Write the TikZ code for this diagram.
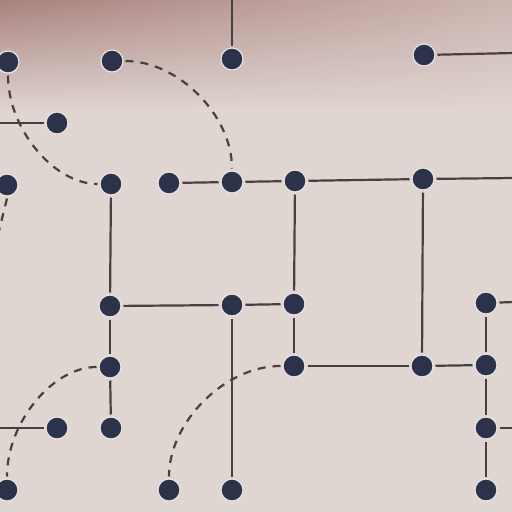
\documentclass[tikz,border=0pt]{standalone}
\usetikzlibrary{calc,fadings}
\definecolor{bgmain}{RGB}{223,213,209}
\definecolor{bgtopl}{RGB}{170,130,126}
\definecolor{bgtopr}{RGB}{205,182,178}
\definecolor{dotc}{RGB}{44,50,74}
\definecolor{linec}{RGB}{72,64,64}
\definecolor{haloc}{RGB}{232,228,232}
\tikzfading[name=topband, top color=transparent!0, middle color=transparent!15, bottom color=transparent!100]
\begin{document}
\begin{tikzpicture}[x=1pt,y=-1pt,
  dot/.style={circle,fill=dotc,draw=haloc,line width=1.2pt,minimum size=22pt,inner sep=0pt,outer sep=2.5pt},
  edge/.style={draw=linec,line width=2.2pt},
  dashedge/.style={draw=linec,line width=2.2pt,dash pattern=on 8pt off 7pt}]
\useasboundingbox (0,0) rectangle (512,512);
\clip (0,0) rectangle (512,512);
\fill[bgmain] (0,0) rectangle (512,512);
\shade[left color=bgtopl,right color=bgtopr,path fading=topband] (0,0) rectangle (512,110);
% nodes
\node[dot] (n1) at (8,62) {};
\node[dot] (n2) at (112,61) {};
\node[dot] (n3) at (232,59) {};
\node[dot] (n4) at (424,55) {};
\node[dot] (n5) at (57,123) {};
\node[dot] (n6) at (7,185) {};
\node[dot] (n7) at (111,184) {};
\node[dot] (n8) at (169,183) {};
\node[dot] (n9) at (232,182) {};
\node[dot] (n10) at (295,181) {};
\node[dot] (n11) at (423,179) {};
\node[dot] (n12) at (110,306) {};
\node[dot] (n13) at (232,305) {};
\node[dot] (n14) at (294,304) {};
\node[dot] (n15) at (486,303) {};
\node[dot] (n16) at (110,367) {};
\node[dot] (n17) at (294,366) {};
\node[dot] (n18) at (422,366) {};
\node[dot] (n19) at (486,365) {};
\node[dot] (n20) at (57,428) {};
\node[dot] (n21) at (111,428) {};
\node[dot] (n22) at (486,428) {};
\node[dot] (n23) at (7,490) {};
\node[dot] (n24) at (169,490) {};
\node[dot] (n25) at (232,490) {};
\node[dot] (n26) at (486,490) {};
% free ends
\coordinate (t3) at (232,-2);
\coordinate (r4) at (514,53);
\coordinate (l5) at (-2,123);
\coordinate (r11) at (514,178);
\coordinate (r15) at (514,302);
\coordinate (l20) at (-2,428);
\coordinate (r22) at (514,428);
\coordinate (d6) at (-2,235);
% solid edges
\draw[edge] (t3) -- (n3);
\draw[edge] (n4) -- (r4);
\draw[edge] (l5) -- (n5);
\draw[edge] (n8) -- (n9);
\draw[edge] (n9) -- (n10);
\draw[edge] (n10) -- (n11);
\draw[edge] (n11) -- (r11);
\draw[edge] (n7) -- (n12);
\draw[edge] (n12) -- (n13);
\draw[edge] (n13) -- (n14);
\draw[edge] (n10) -- (n14);
\draw[edge] (n14) -- (n17);
\draw[edge] (n17) -- (n18);
\draw[edge] (n18) -- (n19);
\draw[edge] (n11) -- (n18);
\draw[edge] (n13) -- (n25);
\draw[edge] (n12) -- (n16);
\draw[edge] (n16) -- (n21);
\draw[edge] (l20) -- (n20);
\draw[edge] (n15) -- (r15);
\draw[edge] (n15) -- (n19);
\draw[edge] (n19) -- (n22);
\draw[edge] (n22) -- (n26);
\draw[edge] (n22) -- (r22);
% dashed arcs
\draw[dashedge] (n1.south) .. controls (8,129) and (54,184) .. (n7.west);
\draw[dashedge] (n2.east) .. controls (178,61) and (232,115) .. (n9.north);
\draw[dashedge] (n16.west) .. controls (53,367) and (7,422) .. (n23.north);
\draw[dashedge] (n17.west) .. controls (225,366) and (169,422) .. (n24.north);
\draw[dashedge] (n6.south) -- (d6);
\end{tikzpicture}
\end{document}
